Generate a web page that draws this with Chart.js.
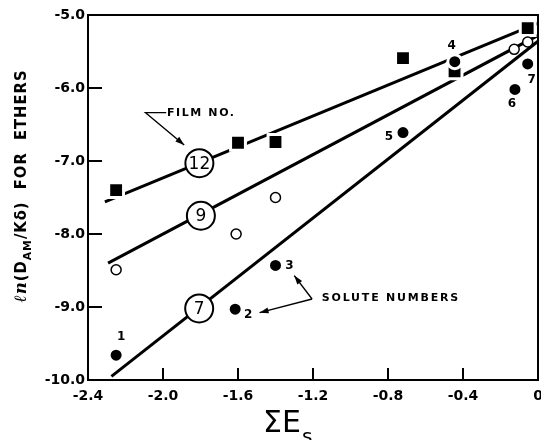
<!DOCTYPE html>
<html><head><meta charset="utf-8">
<script src="https://cdn.jsdelivr.net/npm/chart.js@4"></script>
<style>html,body{margin:0;padding:0;background:#fff}#wrap{width:541px;height:440px;position:relative}</style>
</head><body><div id="wrap"><canvas id="c" width="541" height="440"></canvas></div>
<script>
// ---- tick labels ----
const xTickValues = [-2.4, -2.0, -1.6, -1.2, -0.8, -0.4, 0];
const xTickLabels = ['-2.4', '-2.0', '-1.6', '-1.2', '-0.8', '-0.4', '0'];
const yTickValues = [-5, -6, -7, -8, -9, -10];
const yTickLabels = ['-5.0', '-6.0', '-7.0', '-8.0', '-9.0', '-10.0'];

// ---- data (ΣEs, ln(DAM/Kδ)) ----
const film12X = [-2.25, -1.60, -1.40, -0.72, -0.445, -0.055];
const film12Y = [-7.40, -6.75, -6.74, -5.59, -5.77, -5.18];
const film9X = [-2.25, -1.61, -1.40, -0.127, -0.055];
const film9Y = [-8.49, -8.00, -7.50, -5.47, -5.37];
const film7X = [-2.25, -1.615, -1.40, -0.72, -0.444, -0.123, -0.055];
const film7Y = [-9.66, -9.03, -8.43, -6.61, -5.64, -6.02, -5.67];
const soluteNumbers = ['1', '2', '3', '5', '4', '6', '7'];

// ---- fitted lines ----
const fit12X = [-2.31, 0];
const fit12Y = [-7.56, -5.11];
const fit9X = [-2.293, 0];
const fit9Y = [-8.40, -5.28];
const fit7X = [-2.275, 0];
const fit7Y = [-9.95, -5.36];

// ---- film number labels (circled) ----
const filmLabels = ['12', '9', '7'];
const filmLabelX = [-1.806, -1.798, -1.807];
const filmLabelY = [-7.03, -7.75, -9.02];

// ---- annotation anchors (data coords) ----
const filmNoText = 'FILM NO.';
const filmNoAnchor = { x: -1.979, y: -6.338 };
const filmNoLeader = [{ x: -1.983, y: -6.338 }, { x: -2.093, y: -6.338 }, { x: -1.887, y: -6.78 }];
const soluteText = 'SOLUTE NUMBERS';
const soluteAnchor = { x: -1.153, y: -8.877 };
const soluteArrowFrom = { x: -1.205, y: -8.89 };
const soluteArrowTo = [{ x: -1.300, y: -8.57 }, { x: -1.485, y: -9.078 }];

const zip = (xs, ys) => xs.map((v, i) => ({ x: v, y: ys[i] }));

const soluteOffsets = [[5, -18], [13, 6], [14, 0], [-14, 4], [-3, -16], [-3, 14], [4, 16]];

function arrowHead(ctx, x0, y0, x1, y1, len, wid) {
  const ang = Math.atan2(y1 - y0, x1 - x0);
  ctx.beginPath();
  ctx.moveTo(x1, y1);
  ctx.lineTo(x1 - len * Math.cos(ang) + wid * Math.sin(ang), y1 - len * Math.sin(ang) - wid * Math.cos(ang));
  ctx.lineTo(x1 - len * Math.cos(ang) - wid * Math.sin(ang), y1 - len * Math.sin(ang) + wid * Math.cos(ang));
  ctx.closePath();
  ctx.fill();
}

const decor = {
  id: 'decor',
  afterDatasetsDraw(chart) {
    const { ctx, scales: { x, y } } = chart;
    ctx.save();
    ctx.fillStyle = '#000';
    ctx.textAlign = 'center';
    ctx.textBaseline = 'middle';
    const lm = chart.getDatasetMeta(3);
    ctx.font = '17px "DejaVu Sans"';
    lm.data.forEach((p, i) => ctx.fillText(filmLabels[i], p.x, p.y + 1));
    const m7 = chart.getDatasetMeta(6);
    ctx.font = 'bold 12px "DejaVu Sans"';
    m7.data.forEach((p, i) => ctx.fillText(soluteNumbers[i], p.x + soluteOffsets[i][0], p.y + soluteOffsets[i][1]));
    ctx.font = 'bold 11px "DejaVu Sans"';
    ctx.textAlign = 'left';
    ctx.letterSpacing = '1.6px';
    ctx.fillText(filmNoText, x.getPixelForValue(filmNoAnchor.x), y.getPixelForValue(filmNoAnchor.y));
    ctx.letterSpacing = '1.8px';
    ctx.fillText(soluteText, x.getPixelForValue(soluteAnchor.x), y.getPixelForValue(soluteAnchor.y));
    ctx.letterSpacing = '0px';
    ctx.lineWidth = 1.4;
    ctx.strokeStyle = '#000';
    const P = filmNoLeader.map(q => [x.getPixelForValue(q.x), y.getPixelForValue(q.y)]);
    ctx.beginPath();
    ctx.moveTo(P[0][0], P[0][1]); ctx.lineTo(P[1][0], P[1][1]); ctx.lineTo(P[2][0], P[2][1]);
    ctx.stroke();
    arrowHead(ctx, P[1][0], P[1][1], P[2][0], P[2][1], 9, 3);
    const f = [x.getPixelForValue(soluteArrowFrom.x), y.getPixelForValue(soluteArrowFrom.y)];
    soluteArrowTo.forEach(q => {
      const t = [x.getPixelForValue(q.x), y.getPixelForValue(q.y)];
      ctx.beginPath(); ctx.moveTo(f[0], f[1]); ctx.lineTo(t[0], t[1]); ctx.stroke();
      arrowHead(ctx, f[0], f[1], t[0], t[1], 9, 3);
    });
    ctx.restore();
  },
  afterDraw(chart) {
    const { ctx, chartArea: a, scales: { x, y } } = chart;
    ctx.save();
    ctx.strokeStyle = '#000';
    ctx.lineWidth = 2;
    ctx.strokeRect(a.left, a.top, a.right - a.left, a.bottom - a.top);
    ctx.beginPath();
    xTickValues.forEach(v => { const px = x.getPixelForValue(v); ctx.moveTo(px, a.bottom); ctx.lineTo(px, a.bottom - 12); });
    yTickValues.forEach(v => { const py = y.getPixelForValue(v); ctx.moveTo(a.left, py); ctx.lineTo(a.left + 14, py); });
    ctx.stroke();
    ctx.fillStyle = '#000';
    ctx.textBaseline = 'alphabetic';
    ctx.textAlign = 'left';
    ctx.font = '30px "DejaVu Sans"';
    const big = 'ΣE';
    const wBig = ctx.measureText(big).width;
    const x0 = 263;
    ctx.fillText(big, x0, 432);
    ctx.font = '20px "DejaVu Sans"';
    ctx.fillText('s', x0 + wBig + 1, 443);
    // y title, condensed to span the same length as the original lettering
    ctx.translate(22, 186);
    ctx.rotate(-Math.PI / 2);
    const parts = [
      ['ℓn', 'bold italic 17px "DejaVu Serif"', 0],
      ['(D', 'bold 15px "DejaVu Sans"', 0],
      ['AM', 'bold 11px "DejaVu Sans"', 6],
      ['/Kδ)', 'bold 15px "DejaVu Sans"', 0],
      ['  FOR  ETHERS', 'bold 15px "DejaVu Sans"', 0]
    ];
    ctx.letterSpacing = '1px';
    let total = 0;
    parts.forEach(p => { ctx.font = p[1]; total += ctx.measureText(p[0]).width; });
    ctx.scale(233 / total, 1);
    let px = -total / 2;
    ctx.textBaseline = 'middle';
    parts.forEach(p => { ctx.font = p[1]; ctx.fillText(p[0], px, p[2]); px += ctx.measureText(p[0]).width; });
    ctx.restore();
  }
};

const lineDs = (xs, ys) => ({
  type: 'line', data: zip(xs, ys), showLine: true, borderColor: '#000', borderWidth: 3,
  pointRadius: 0, fill: false, order: 5
});

new Chart(document.getElementById('c'), {
  type: 'scatter',
  data: {
    datasets: [
      lineDs(fit12X, fit12Y),
      lineDs(fit9X, fit9Y),
      lineDs(fit7X, fit7Y),
      { data: zip(filmLabelX, filmLabelY), pointRadius: 14, pointBackgroundColor: '#fff', pointBorderColor: '#000', pointBorderWidth: 2, order: 4 },
      { data: zip(film12X, film12Y), pointStyle: 'rect', pointRadius: 10.5, pointBackgroundColor: '#000', pointBorderColor: '#fff', pointBorderWidth: 3, order: 3 },
      { data: zip(film9X, film9Y), pointRadius: 5, pointBackgroundColor: '#fff', pointBorderColor: '#000', pointBorderWidth: 1.5, order: 2 },
      { data: zip(film7X, film7Y), pointRadius: 7, pointBackgroundColor: '#000', pointBorderColor: '#fff', pointBorderWidth: 3, order: 1 }
    ]
  },
  options: {
    responsive: false,
    animation: false,
    devicePixelRatio: 1,
    layout: { autoPadding: false, padding: { top: 15, right: 3, left: 0, bottom: 0 } },
    plugins: { legend: { display: false }, tooltip: { enabled: false } },
    elements: { point: { hoverRadius: 0 } },
    scales: {
      x: {
        type: 'linear', min: -2.4, max: 0,
        afterBuildTicks: s => { s.ticks = xTickValues.map(v => ({ value: v })); },
        afterFit: s => { s.height = 60; s.paddingLeft = 0; s.paddingRight = 0; },
        grid: { display: false, drawTicks: false },
        border: { display: false },
        ticks: {
          color: '#000', padding: 8, maxRotation: 0, autoSkip: false,
          font: { family: 'DejaVu Sans', size: 14, weight: 'bold' },
          callback: (v) => { const i = xTickValues.findIndex(t => Math.abs(t - v) < 1e-9); return i >= 0 ? xTickLabels[i] : ''; }
        }
      },
      y: {
        type: 'linear', min: -10, max: -5,
        afterBuildTicks: s => { s.ticks = yTickValues.map(v => ({ value: v })); },
        afterFit: s => { s.width = 88; s.paddingTop = 0; s.paddingBottom = 0; },
        grid: { display: false, drawTicks: false },
        border: { display: false },
        ticks: {
          color: '#000', padding: 3, autoSkip: false,
          font: { family: 'DejaVu Sans', size: 14, weight: 'bold' },
          callback: (v) => { const i = yTickValues.findIndex(t => Math.abs(t - v) < 1e-9); return i >= 0 ? yTickLabels[i] : ''; }
        }
      }
    }
  },
  plugins: [decor]
});
</script>
</body></html>
